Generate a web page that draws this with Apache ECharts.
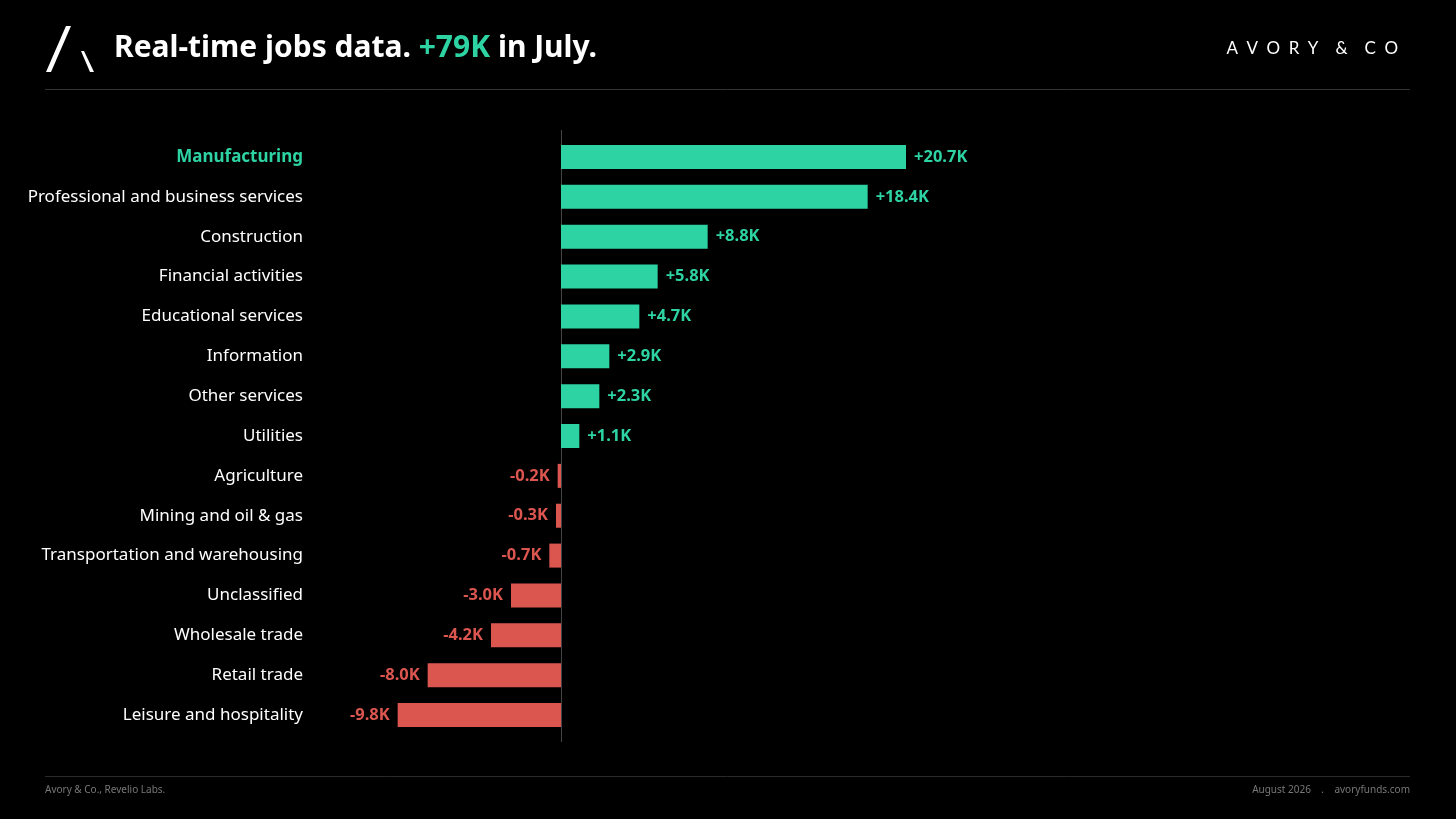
<!DOCTYPE html>
<html>
<head>
<meta charset="utf-8">
<script src="https://cdn.jsdelivr.net/npm/echarts@6/dist/echarts.min.js"></script>
<style>
  html, body { margin: 0; padding: 0; background: #000; }
  #chart { width: 1456px; height: 819px; }
</style>
</head>
<body>
<div id="chart"></div>
<script>
// sectors, top to bottom
var categories = [
    'Manufacturing', 'Professional and business services', 'Construction',
    'Financial activities', 'Educational services', 'Information',
    'Other services', 'Utilities', 'Agriculture', 'Mining and oil & gas',
    'Transportation and warehousing', 'Unclassified', 'Wholesale trade',
    'Retail trade', 'Leisure and hospitality'
];
// change in jobs, thousands
var changes = [20.7, 18.4, 8.8, 5.8, 4.7, 2.9, 2.3, 1.1, -0.2, -0.3, -0.7, -3.0, -4.2, -8.0, -9.8];
var highlight = 'Manufacturing';

var GREEN = '#2ed3a3',
    RED = '#dc5650',
    FONT = '"Noto Sans", sans-serif';

var chart = echarts.init(document.getElementById('chart'));

var barData = changes.map(function(v) {
    return {
        value: v,
        itemStyle: {color: v >= 0 ? GREEN : RED},
        label: {
            position: v >= 0 ? 'right' : 'left',
            color: v >= 0 ? GREEN : RED
        }
    };
});

chart.setOption({
    backgroundColor: '#000',
    animation: false,
    grid: {left: 311, width: 750, top: 137, height: 598},
    xAxis: {
        type: 'value',
        min: -15,
        max: 30,
        show: false
    },
    yAxis: {
        type: 'category',
        inverse: true,
        data: categories,
        axisLine: {show: false},
        axisTick: {show: false},
        axisLabel: {
            margin: 8,
            fontFamily: FONT,
            fontSize: 17,
            color: '#fff',
            formatter: function(v) {
                return v === highlight ? '{hl|' + v + '}' : v;
            },
            rich: {
                hl: {color: GREEN, fontWeight: 'bold', fontFamily: FONT, fontSize: 17}
            }
        }
    },
    series: [{
        type: 'bar',
        barWidth: 24,
        data: barData,
        label: {
            show: true,
            distance: 8,
            fontFamily: FONT,
            fontSize: 16.5,
            fontWeight: 'bold',
            formatter: function(p) {
                return (p.value > 0 ? '+' : '') + p.value.toFixed(1) + 'K';
            }
        }
    }]
});

// zero line, taller than the bar area
var x0 = chart.convertToPixel({xAxisIndex: 0}, 0);

chart.setOption({
    graphic: [
        // logo
        {type: 'polygon', shape: {points: [[66, 26], [71, 26], [51, 72], [46, 72]]}, style: {fill: '#fff'}},
        {type: 'polygon', shape: {points: [[81, 51], [84, 51], [94, 72], [90, 72]]}, style: {fill: '#fff'}},
        {
            type: 'text', x: 114, y: 48,
            style: {
                text: '{w|Real-time jobs data. }{g|+79K}{w| in July.}',
                verticalAlign: 'middle',
                rich: {
                    w: {fill: '#fff', fontFamily: FONT, fontWeight: 'bold', fontSize: 30},
                    g: {fill: GREEN, fontFamily: FONT, fontWeight: 'bold', fontSize: 30}
                }
            }
        },
        {
            type: 'text', x: 1398, y: 49,
            style: {
                text: 'A\u2002V\u2002O\u2002R\u2002Y\u2002\u2002&\u2002\u2002C\u2002O',
                align: 'right', verticalAlign: 'middle',
                fill: '#fff', fontFamily: 'Lato, sans-serif', fontWeight: 'normal', fontSize: 17
            }
        },
        {type: 'line', shape: {x1: 45, y1: 89.5, x2: 1410, y2: 89.5}, style: {stroke: '#333', lineWidth: 1}},
        {type: 'line', shape: {x1: x0 + 0.5, y1: 130, x2: x0 + 0.5, y2: 742}, style: {stroke: '#444', lineWidth: 1}},
        {type: 'line', shape: {x1: 45, y1: 776.5, x2: 1410, y2: 776.5}, style: {stroke: '#2a2a2a', lineWidth: 1}},
        {
            type: 'text', x: 45, y: 790,
            style: {text: 'Avory & Co., Revelio Labs.', verticalAlign: 'middle', fill: '#777', fontFamily: FONT, fontSize: 10}
        },
        {
            type: 'text', x: 1410, y: 790,
            style: {text: 'August 2026    .    avoryfunds.com', align: 'right', verticalAlign: 'middle', fill: '#777', fontFamily: FONT, fontSize: 10}
        }
    ]
});
</script>
</body>
</html>
